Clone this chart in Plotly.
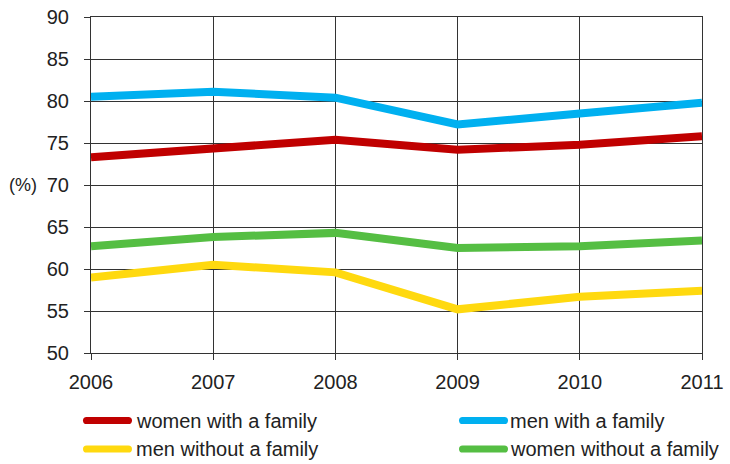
import plotly.graph_objects as go

years = [2006, 2007, 2008, 2009, 2010, 2011]

women_with_family = [73.3, 74.4, 75.4, 74.2, 74.8, 75.8]
men_with_family = [80.5, 81.1, 80.4, 77.2, 78.5, 79.8]
men_without_family = [59.0, 60.5, 59.6, 55.2, 56.7, 57.4]
women_without_family = [62.7, 63.8, 64.3, 62.5, 62.7, 63.4]

y_ticks = [50, 55, 60, 65, 70, 75, 80, 85, 90]

series_names = ["women with a family", "men with a family",
                "men without a family", "women without a family"]
series_values = [women_with_family, men_with_family,
                 men_without_family, women_without_family]
series_colors = ["#C00000", "#00B0F0", "#FFD90F", "#55BE43"]

FONT = "Liberation Sans, Arial, sans-serif"
TEXT = "#222222"
GRID = "#333333"

fig = go.Figure()
for name, vals, color in zip(series_names, series_values, series_colors):
    fig.add_trace(go.Scatter(
        x=years, y=vals, name=name, mode="lines",
        line=dict(color=color, width=8), showlegend=False,
    ))

# Two-column key below the plot: rounded swatch + label per series
key_cols = [(-0.0131, 0.0704), (0.6023, 0.6825)]   # (swatch x, label x) in paper units
key_rows = [-0.2009, -0.2857]                         # row centres in paper units
swatch_len, r = 49, 3.6
swatch_path = (f"M {r},{-r} L {swatch_len - r},{-r} Q {swatch_len},{-r} {swatch_len},0 "
               f"Q {swatch_len},{r} {swatch_len - r},{r} L {r},{r} Q 0,{r} 0,0 "
               f"Q 0,{-r} {r},{-r} Z")

shapes, annotations = [], []
for i, (name, color) in enumerate(zip(series_names, series_colors)):
    row, col = divmod(i, 2)
    sx, tx = key_cols[col]
    ky = key_rows[row]
    shapes.append(dict(
        type="path", xref="paper", yref="paper",
        xsizemode="pixel", ysizemode="pixel", xanchor=sx, yanchor=ky,
        path=swatch_path, fillcolor=color, line=dict(width=0),
    ))
    annotations.append(dict(
        text=name, xref="paper", yref="paper", x=tx, y=ky,
        showarrow=False, xanchor="left", yanchor="middle",
        font=dict(size=20, color=TEXT, family=FONT),
    ))

annotations.append(dict(
    text="(%)", xref="paper", yref="y", x=-0.111, y=70,
    showarrow=False, xanchor="center", yanchor="middle",
    font=dict(size=18, color=TEXT, family=FONT),
))

fig.update_layout(
    width=730, height=464,
    margin=dict(l=91, r=28, t=17, b=111, autoexpand=False),
    paper_bgcolor="white", plot_bgcolor="white",
    font=dict(family=FONT, color=TEXT, size=20),
    showlegend=False,
    shapes=shapes,
    annotations=annotations,
)

fig.update_xaxes(
    range=[2006, 2011], tickvals=years, ticktext=[str(y) for y in years],
    showgrid=True, gridcolor=GRID, gridwidth=1,
    showline=True, linecolor=GRID, linewidth=1, mirror=True,
    ticks="outside", ticklen=6, tickcolor=GRID,
    ticklabelstandoff=5,
    zeroline=False,
)
fig.update_yaxes(
    range=[50, 90], tickvals=y_ticks,
    showgrid=True, gridcolor=GRID, gridwidth=1,
    showline=True, linecolor=GRID, linewidth=1, mirror=True,
    ticks="outside", ticklen=6, tickcolor=GRID,
    ticklabelstandoff=11,
    zeroline=False,
)

fig.write_html("out.html")
